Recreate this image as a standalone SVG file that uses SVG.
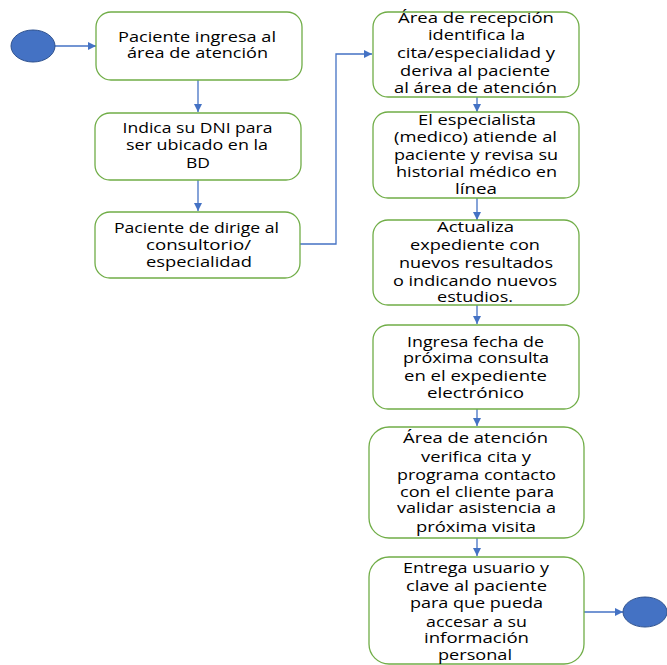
<svg xmlns="http://www.w3.org/2000/svg" width="667" height="665" viewBox="0 0 667 665">
<defs>
<marker id="ah" markerWidth="8" markerHeight="8" refX="8" refY="4" orient="auto" markerUnits="userSpaceOnUse">
<path d="M0,0 L8,4 L0,8 Z" fill="#4472C4"/>
</marker>
<style>
.box{fill:#fff;stroke:#70AD47;stroke-width:1.3}
.term{fill:#4472C4;stroke:#2F528F;stroke-width:1}
.c{fill:none;stroke:#4472C4;stroke-width:1.3;marker-end:url(#ah)}
text{font-family:"Open Sans","Liberation Sans",sans-serif;font-size:14px;fill:#000;text-anchor:middle}
</style>
</defs>
<rect width="667" height="665" fill="#fff"/>
<g id="connectors">
<path class="c" d="M55,46 H96"/>
<path class="c" d="M198,80 V112"/>
<path class="c" d="M198,180 V211"/>
<path class="c" d="M300,244 H336 V54 H372"/>
<path class="c" d="M477,97 V112"/>
<path class="c" d="M477,198 V220"/>
<path class="c" d="M477,305 V324"/>
<path class="c" d="M477,409 V426"/>
<path class="c" d="M477,538 V556"/>
<path class="c" d="M584,612 H623"/>
</g>
<g id="start"><ellipse class="term" cx="33" cy="46" rx="22" ry="16"/></g>
<g id="n1">
<rect class="box" x="96" y="12" width="206" height="68" rx="15"/>
<text x="197" y="42" textLength="158" lengthAdjust="spacingAndGlyphs">Paciente ingresa al</text>
<text x="197.5" y="58" textLength="141" lengthAdjust="spacingAndGlyphs">área de atención</text>
</g>
<g id="n2">
<rect class="box" x="95" y="113" width="206" height="67" rx="15"/>
<text x="197.5" y="133" textLength="150" lengthAdjust="spacingAndGlyphs">Indica su DNI para</text>
<text x="197" y="150" textLength="142" lengthAdjust="spacingAndGlyphs">ser ubicado en la</text>
<text x="198" y="168" textLength="24" lengthAdjust="spacingAndGlyphs">BD</text>
</g>
<g id="n3">
<rect class="box" x="95" y="212" width="205" height="66" rx="15"/>
<text x="196.5" y="233" textLength="165" lengthAdjust="spacingAndGlyphs">Paciente de dirige al</text>
<text x="198.5" y="250" textLength="105" lengthAdjust="spacingAndGlyphs">consultorio/</text>
<text x="199" y="267" textLength="106" lengthAdjust="spacingAndGlyphs">especialidad</text>
</g>
<g id="n4">
<rect class="box" x="373" y="12" width="206" height="85" rx="15"/>
<text x="476" y="23" textLength="156" lengthAdjust="spacingAndGlyphs">Área de recepción</text>
<text x="476.5" y="40" textLength="97" lengthAdjust="spacingAndGlyphs">identifica la</text>
<text x="476" y="58" textLength="158" lengthAdjust="spacingAndGlyphs">cita/especialidad y</text>
<text x="475" y="76" textLength="150" lengthAdjust="spacingAndGlyphs">deriva al paciente</text>
<text x="475.5" y="93" textLength="163" lengthAdjust="spacingAndGlyphs">al área de atención</text>
</g>
<g id="n5">
<rect class="box" x="373" y="112" width="206" height="86" rx="15"/>
<text x="477" y="125" textLength="118" lengthAdjust="spacingAndGlyphs">El especialista</text>
<text x="475.5" y="142" textLength="163" lengthAdjust="spacingAndGlyphs">(medico) atiende al</text>
<text x="476" y="160" textLength="164" lengthAdjust="spacingAndGlyphs">paciente y revisa su</text>
<text x="476.5" y="177" textLength="161" lengthAdjust="spacingAndGlyphs">historial médico en</text>
<text x="476" y="194" textLength="42" lengthAdjust="spacingAndGlyphs">línea</text>
</g>
<g id="n6">
<rect class="box" x="373" y="220" width="206" height="85" rx="15"/>
<text x="475.5" y="232" textLength="77" lengthAdjust="spacingAndGlyphs">Actualiza</text>
<text x="475" y="250" textLength="130" lengthAdjust="spacingAndGlyphs">expediente con</text>
<text x="476" y="268" textLength="154" lengthAdjust="spacingAndGlyphs">nuevos resultados</text>
<text x="475" y="286" textLength="164" lengthAdjust="spacingAndGlyphs">o indicando nuevos</text>
<text x="475" y="302" textLength="76" lengthAdjust="spacingAndGlyphs">estudios.</text>
</g>
<g id="n7">
<rect class="box" x="373" y="325" width="206" height="84" rx="15"/>
<text x="475.5" y="347" textLength="137" lengthAdjust="spacingAndGlyphs">Ingresa fecha de</text>
<text x="476" y="363" textLength="146" lengthAdjust="spacingAndGlyphs">próxima consulta</text>
<text x="475.5" y="381" textLength="143" lengthAdjust="spacingAndGlyphs">en el expediente</text>
<text x="475.5" y="398" textLength="97" lengthAdjust="spacingAndGlyphs">electrónico</text>
</g>
<g id="n8">
<rect class="box" x="369" y="427" width="215" height="111" rx="20"/>
<text x="475.5" y="443" textLength="145" lengthAdjust="spacingAndGlyphs">Área de atención</text>
<text x="476" y="462" textLength="110" lengthAdjust="spacingAndGlyphs">verifica cita y</text>
<text x="476.5" y="480" textLength="159" lengthAdjust="spacingAndGlyphs">programa contacto</text>
<text x="477" y="497" textLength="154" lengthAdjust="spacingAndGlyphs">con el cliente para</text>
<text x="476.5" y="513" textLength="159" lengthAdjust="spacingAndGlyphs">validar asistencia a</text>
<text x="476" y="532" textLength="120" lengthAdjust="spacingAndGlyphs">próxima visita</text>
</g>
<g id="n9">
<rect class="box" x="369" y="557" width="215" height="107" rx="20"/>
<text x="476" y="573" textLength="146" lengthAdjust="spacingAndGlyphs">Entrega usuario y</text>
<text x="476.5" y="591" textLength="141" lengthAdjust="spacingAndGlyphs">clave al paciente</text>
<text x="476.5" y="608" textLength="133" lengthAdjust="spacingAndGlyphs">para que pueda</text>
<text x="476.5" y="627" textLength="101" lengthAdjust="spacingAndGlyphs">accesar a su</text>
<text x="476.5" y="643" textLength="105" lengthAdjust="spacingAndGlyphs">información</text>
<text x="475" y="660" textLength="74" lengthAdjust="spacingAndGlyphs">personal</text>
</g>
<g id="end"><ellipse class="term" cx="645" cy="612" rx="22" ry="15"/></g>
</svg>
